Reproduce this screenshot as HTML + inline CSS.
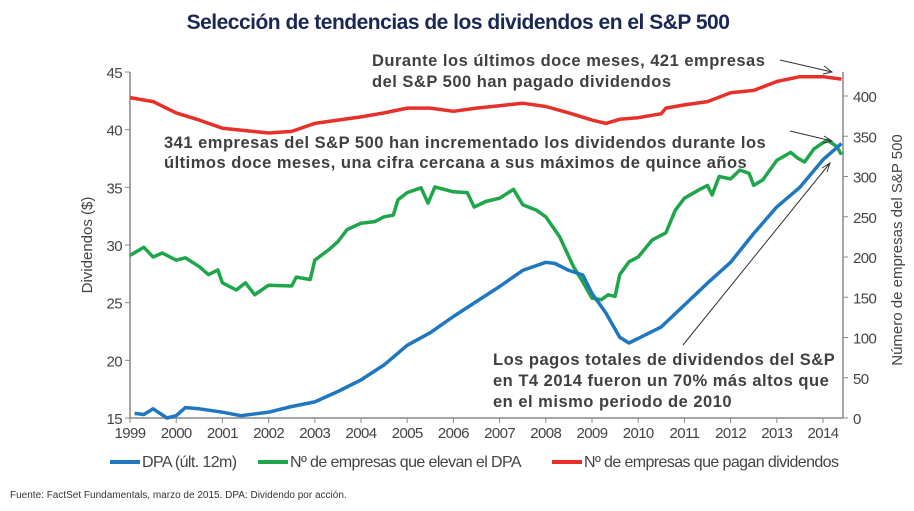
<!DOCTYPE html>
<html><head><meta charset="utf-8"><style>
body{margin:0;background:#fff;width:914px;height:506px;overflow:hidden}
svg{font-family:"Liberation Sans",sans-serif}
.tk{font-size:15px;fill:#444;letter-spacing:-0.6px}
.ann{font-size:16.5px;font-weight:bold;fill:#404040;letter-spacing:0.5px}
</style></head><body>
<svg id="chart" width="914" height="506">
<text x="458" y="29" text-anchor="middle" font-size="21" font-weight="bold" fill="#1a2856" letter-spacing="-0.5">Selección de tendencias de los dividendos en el S&amp;P 500</text>
<g id="axes"></g>
<g id="series"></g>
<text class="ann" x="372" y="66">Durante los últimos doce meses, 421 empresas</text>
<text class="ann" x="372" y="87">del S&amp;P 500 han pagado dividendos</text>
<text class="ann" x="164" y="148">341 empresas del S&amp;P 500 han incrementado los dividendos durante los</text>
<text class="ann" x="164" y="168">últimos doce meses, una cifra cercana a sus máximos de quince años</text>
<text class="ann" x="493" y="365">Los pagos totales de dividendos del S&amp;P</text>
<text class="ann" x="493" y="386">en T4 2014 fueron un 70% más altos que</text>
<text class="ann" x="493" y="407">en el mismo periodo de 2010</text>
<g stroke="#333" stroke-width="1" fill="none">
<path d="M780 60 L832 72 M824 66 L832 72 L823 74"/>
<path d="M790 131 L832 141 M824 136 L832 141 L823 143"/>
<path d="M683 345 L830 163 M822 168 L830 163 L827 172"/>
</g>
<g>
<line x1="110" y1="462" x2="140" y2="462" stroke="#1f77c0" stroke-width="4"/>
<text x="142" y="467" font-size="16" fill="#444" letter-spacing="-0.6">DPA (últ. 12m)</text>
<line x1="258" y1="462" x2="288" y2="462" stroke="#1fa64a" stroke-width="4"/>
<text x="290" y="467" font-size="16" fill="#444" letter-spacing="-0.6">Nº de empresas que elevan el DPA</text>
<line x1="552" y1="462" x2="582" y2="462" stroke="#e8302a" stroke-width="4"/>
<text x="584" y="467" font-size="16" fill="#444" letter-spacing="-0.6">Nº de empresas que pagan dividendos</text>
</g>
<text x="10" y="498" font-size="10" fill="#333">Fuente: FactSet Fundamentals, marzo de 2015. DPA: Dividendo por acción.</text>
</svg>
<script>
const years=[1999,2000,2001,2002,2003,2004,2005,2006,2007,2008,2009,2010,2011,2012,2013,2014];
const leftTicks=[15,20,25,30,35,40,45];
const rightTicks=[0,50,100,150,200,250,300,350,400];
const redT=[1999,1999.5,2000,2000.5,2001,2001.5,2002,2002.5,2003,2003.5,2004,2004.5,2005,2005.5,2006,2006.5,2007,2007.5,2008,2008.5,2009,2009.3,2009.6,2010,2010.5,2010.6,2011,2011.5,2012,2012.5,2013,2013.5,2014,2014.4];
const redV=[398,393,379,370,360,357,354,356,366,370,374,379,385,385,381,385,388,391,387,379,370,366,371,373,378,385,389,393,404,407,418,424,424,421];
const greenT=[1999,1999.3,1999.5,1999.7,2000,2000.2,2000.5,2000.7,2000.9,2001,2001.3,2001.5,2001.7,2002,2002.5,2002.6,2002.9,2003,2003.3,2003.5,2003.7,2004,2004.3,2004.5,2004.7,2004.8,2005,2005.3,2005.45,2005.6,2006,2006.3,2006.45,2006.7,2007,2007.3,2007.5,2007.8,2008,2008.3,2008.6,2008.8,2009,2009.2,2009.35,2009.5,2009.6,2009.8,2010,2010.3,2010.6,2010.8,2011,2011.3,2011.5,2011.6,2011.75,2012,2012.2,2012.4,2012.5,2012.7,2013,2013.3,2013.45,2013.6,2013.8,2014,2014.1,2014.3,2014.4];
const greenV=[202,212,200,205,196,199,188,178,184,168,159,168,153,165,164,175,172,196,209,219,234,242,244,250,252,271,280,286,267,287,281,280,262,269,273,284,265,258,250,225,188,169,149,147,153,151,178,194,200,221,230,258,273,283,289,277,300,297,308,304,289,296,320,330,323,318,334,342,345,337,327];
const blueT=[1999.1,1999.3,1999.5,1999.8,2000,2000.2,2000.5,2001,2001.4,2002,2002.5,2003,2003.5,2004,2004.5,2005,2005.5,2006,2006.5,2007,2007.5,2008,2008.2,2008.5,2008.8,2009,2009.3,2009.6,2009.8,2010,2010.5,2011,2011.5,2012,2012.5,2013,2013.5,2014,2014.4];
const blueV=[15.4,15.3,15.8,15.0,15.2,15.9,15.8,15.5,15.2,15.5,16.0,16.4,17.3,18.3,19.6,21.3,22.4,23.8,25.1,26.4,27.8,28.5,28.4,27.8,27.4,25.8,24.1,22.0,21.5,21.9,22.9,24.8,26.7,28.5,31.0,33.3,35.0,37.4,38.8];
const X0=130,X1=843,Y0=418,YT=72;
const x=t=>X0+(t-1999)*46.2;
const yL=v=>Y0-(v-15)*(Y0-YT)/30;
const yR=v=>Y0-v*(Y0-96)/400;
const NS='http://www.w3.org/2000/svg';
function mk(tag,attrs,parent){const e=document.createElementNS(NS,tag);for(const k in attrs)e.setAttribute(k,attrs[k]);parent.appendChild(e);return e;}
const ax=document.getElementById('axes'),sr=document.getElementById('series');
let e=mk('line',{x1:X0,y1:YT,x2:X0,y2:Y0,stroke:'#888','stroke-width':1.5},ax);


e=mk('line',{x1:X1,y1:YT,x2:X1,y2:Y0,stroke:'#888','stroke-width':1.5},ax);


e=mk('line',{x1:X0,y1:Y0,x2:X1,y2:Y0,stroke:'#888','stroke-width':1.5},ax);


leftTicks.forEach(v=>{mk('line',{x1:X0-5,y1:yL(v),x2:X0,y2:yL(v),stroke:'#888'},ax);
 const t=mk('text',{x:X0-8,y:yL(v)+6,'text-anchor':'end',class:'tk'},ax);t.textContent=v;
 
 });
rightTicks.forEach(v=>{mk('line',{x1:X1,y1:yR(v),x2:X1+5,y2:yR(v),stroke:'#888'},ax);
 const t=mk('text',{x:X1+10,y:yR(v)+6,class:'tk'},ax);t.textContent=v;
 
 });
years.forEach(v=>{mk('line',{x1:x(v),y1:Y0,x2:x(v),y2:Y0+5,stroke:'#888'},ax);
 const t=mk('text',{x:x(v),y:Y0+20,'text-anchor':'middle',class:'tk'},ax);t.textContent=v;
 
 });
let t=mk('text',{x:0,y:0,'text-anchor':'middle','font-size':15,fill:'#444',transform:'translate(92,245) rotate(-90)'},ax);t.textContent='Dividendos ($)';


t=mk('text',{x:0,y:0,'text-anchor':'middle','font-size':15,fill:'#444',transform:'translate(902,250) rotate(-90)'},ax);t.textContent='Número de empresas del S&P 500';


function line(T,V,yf,col,name){const p=mk('polyline',{points:T.map((tt,i)=>x(tt).toFixed(1)+','+yf(V[i]).toFixed(1)).join(' '),fill:'none',stroke:col,'stroke-width':3.5,'stroke-linejoin':'round'},sr);
 
 }
line(redT,redV,yR,'#e8302a','paying-companies-line');
line(greenT,greenV,yR,'#1fa64a','raising-companies-line');
line(blueT,blueV,yL,'#1f77c0','dps-line');
</script>
</body></html>
